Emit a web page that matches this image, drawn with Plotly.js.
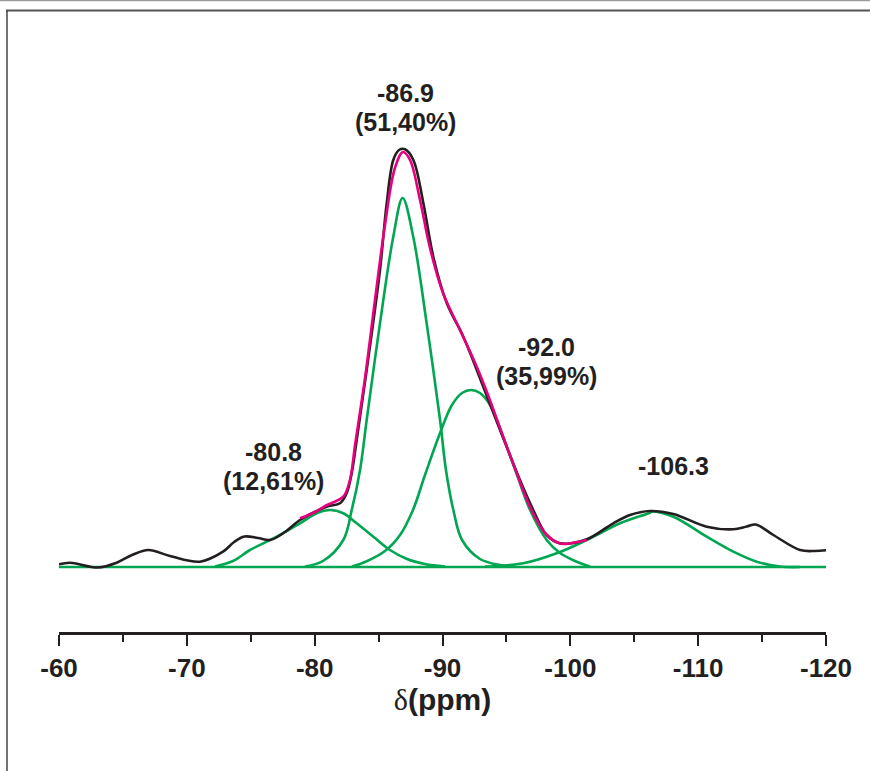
<!DOCTYPE html>
<html>
<head>
<meta charset="utf-8">
<script src="https://cdn.plot.ly/plotly-3.0.1.min.js"></script>
<style>html,body{margin:0;padding:0;background:#fff;}#chart{width:870px;height:771px;}</style>
</head>
<body>
<div id="chart"></div>
<script>
// Experimental spectrum (black)
var expPpm = [-60.0,-60.86,-63.07,-64.51,-65.71,-66.99,-68.68,-71.03,-72.83,-73.7,-74.5,-75.57,-76.51,-77.68,-78.85,-80.94,-81.98,-82.51,-82.9,-83.29,-84.07,-85.11,-85.64,-86.15,-86.6,-87.07,-87.72,-88.5,-89.28,-90.33,-91.63,-93.19,-94.5,-96.06,-97.1,-98.15,-99.19,-101.28,-103.36,-104.67,-106.23,-108.06,-110.67,-112.75,-113.8,-114.5,-115.88,-117.97,-119.14,-120.18];
var expInt = [2.7,4.3,-0.5,4.3,12,17,11,5.3,15.3,25,30.5,29,27,35,47,60.3,63.7,74,94,127,197,297,364,407,417,417.7,407,364,310.3,264,230.3,180.3,137,87,57,32,23.7,27.7,43.7,52,56,53,40.3,37.7,40.5,42.5,32,17,16,17];

// Fitted sum (magenta)
var fitPpm = [-78.85,-80.03,-80.97,-82.24,-82.76,-83.16,-83.94,-84.72,-85.5,-86.28,-86.91,-87.46,-88.24,-89.02,-90.04,-91.37,-92.62,-93.56,-94.5,-95.83,-96.85,-98.02,-99.19,-100.13,-101.28];
var fitInt = [48.7,55,62,70.3,87,122,189,267,342,399,415,407,367,319,274,237,202,172,139,93,60,34,23.5,24,27];

// Component peaks (green)
var c1Ppm = [-72.2,-73.61,-74.94,-77.03,-78.85,-80.16,-81.2,-82.24,-83.29,-84.59,-85.89,-87.22,-88.63,-90.2];
var c1Int = [0.5,6,17,30.3,43.7,53.7,57,53.7,43.7,30.3,17,8,3,0.5];

var c2Ppm = [-79.24,-80.65,-82.24,-82.9,-83.55,-84.07,-85.11,-86.15,-86.88,-87.71,-88.76,-89.81,-90.27,-90.85,-91.53,-92.93,-94.5,-95.67];
var c2Int = [0.5,6,27,57,97,147,243.7,330.3,369,330.3,243.7,147,97,57,27,8,2,0.5];

var c3Ppm = [-82.92,-83.94,-85.5,-86.68,-87.69,-88.63,-89.81,-90.74,-91.53,-92.23,-92.93,-93.72,-94.66,-95.83,-96.85,-98.15,-99.19,-100.37,-101.54];
var c3Int = [0.5,5,16,32,57,92,134,162,174,177,174,162,133,92,57,27,14,6,0.5];

var c4Ppm = [-93.33,-96.32,-98.93,-101.28,-103.89,-106.23,-106.39,-108.06,-110.67,-112.75,-114.58,-116.4,-117.97];
var c4Int = [0.5,3.7,13.7,27,43.7,54.3,55.5,50.3,30.3,15.3,5.3,0.5,0];

var basePpm = [-60,-120];
var baseInt = [0,0];

// Peak labels
var labelX = [-87.07,-87.07,-98.1,-98.1,-76.8,-76.8,-108.1];
var labelY = [474,445.5,220,191.5,115.5,86.5,101];
var labelText = ['-86.9','(51,40%)','-92.0','(35,99%)','-80.8','(12,61%)','-106.3'];

var xTickVals = [-60,-70,-80,-90,-100,-110,-120];
var xTickText = ['-60','-70','-80','-90','-100','-110','-120'];

var GREEN = '#00a651', BLACK = '#231f20', MAGENTA = '#e6007e';
function ln(x, y, c){
  return {x:x, y:y, type:'scatter', mode:'lines', hoverinfo:'skip',
          line:{color:c, width:2.6, shape:'spline', smoothing:1}};
}
var traces = [
  ln(basePpm, baseInt, GREEN),
  ln(c1Ppm, c1Int, GREEN),
  ln(c2Ppm, c2Int, GREEN),
  ln(c3Ppm, c3Int, GREEN),
  ln(c4Ppm, c4Int, GREEN),
  ln(expPpm, expInt, BLACK),
  ln(fitPpm, fitInt, MAGENTA)
];

var annotations = labelText.map(function(t, i){
  return {x:labelX[i], y:labelY[i], xref:'x', yref:'y', text:t, showarrow:false,
          xanchor:'center', yanchor:'middle',
          font:{family:'Liberation Sans, Arial, sans-serif', size:25, color:BLACK, weight:'bold'}};
});

function px(x){ return (x-59)/767; }
function py(y){ return (632-y)/572; }
var shapes = [
  {type:'line', xref:'paper', yref:'paper', x0:px(0), x1:px(870), y0:py(0.6), y1:py(0.6), line:{color:'#9a9a9a', width:1.5}},
  {type:'line', xref:'paper', yref:'paper', x0:px(6), x1:px(870), y0:py(10.5), y1:py(10.5), line:{color:'#555', width:2}},
  {type:'line', xref:'paper', yref:'paper', x0:px(7), x1:px(7), y0:py(10), y1:py(771), line:{color:'#444', width:1.5}}
];

var layout = {
  width:870, height:771,
  margin:{l:59, r:44, t:60, b:139, pad:0},
  paper_bgcolor:'#fff', plot_bgcolor:'#fff',
  showlegend:false,
  xaxis:{
    range:[-60,-120], autorange:false, automargin:false,
    showgrid:false, zeroline:false,
    showline:true, linecolor:BLACK, linewidth:2.5,
    ticks:'outside', ticklen:11, tickwidth:2, tickcolor:BLACK,
    tickvals:xTickVals, ticktext:xTickText,
    tickfont:{family:'Liberation Sans, Arial, sans-serif', size:26, color:BLACK, weight:'bold'},
    minor:{dtick:5, ticks:'outside', ticklen:7, tickwidth:2, tickcolor:BLACK, showgrid:false},
    title:{text:'<span style="font-family:Liberation Serif, Times New Roman, serif;font-weight:normal">δ</span>(ppm)', standoff:8,
           font:{family:'Liberation Sans, Arial, sans-serif', size:30, color:BLACK, weight:'bold'}}
  },
  yaxis:{visible:false, range:[-65,507], autorange:false, fixedrange:true},
  annotations:annotations,
  shapes:shapes
};

Plotly.newPlot('chart', traces, layout, {displayModeBar:false, staticPlot:true});
</script>
</body>
</html>
